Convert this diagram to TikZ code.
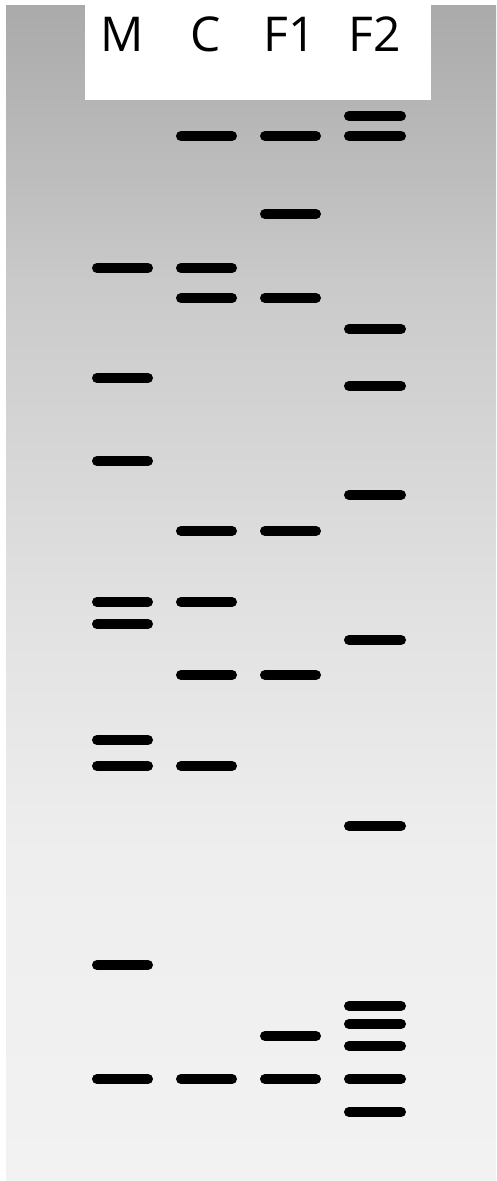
\documentclass[tikz,border=0pt]{standalone}
\usepackage{fontspec}
\setmainfont{Open Sans}
\definecolor{gA}{HTML}{AAAAAA}
\definecolor{gB}{HTML}{CBCBCB}
\definecolor{gC}{HTML}{E1E1E1}
\definecolor{gD}{HTML}{EEEEEE}
\definecolor{gE}{HTML}{F2F2F2}
\pgfdeclareverticalshading{gelshade}{100bp}{color(0bp)=(gE); color(25bp)=(gE); color(39bp)=(gD); color(49.5bp)=(gC); color(62.5bp)=(gB); color(75bp)=(gA); color(100bp)=(gA)}
\begin{document}
\begin{tikzpicture}[x=1pt,y=-1pt,
  band/.style={line width=10pt,line cap=round,draw=black},
  lane/.style={font=\fontsize{48}{48}\selectfont,anchor=base,inner sep=0pt}]
\useasboundingbox (0,0) rectangle (496,1181);
\fill[white] (0,0) rectangle (496,1181);
\shade[shading=gelshade] (6,5) rectangle (496,1181);
\fill[white] (85,0) rectangle (431,100);
\node[lane] (lM) at (122,51) {M};
\node[lane] (lC) at (206,51) {C};
\node[lane] (lF1) at (290,51) {F1};
\node[lane] (lF2) at (375,51) {F2};
% M lane
\foreach \y in {268,378,461,602,624,740,766,965,1079}
  \draw[band] (97,\y) -- (148,\y);
% C lane
\foreach \y in {136,268,298,531,602,675,766,1079}
  \draw[band] (181,\y) -- (232,\y);
% F1 lane
\foreach \y in {136,214,298,531,675,1036,1079}
  \draw[band] (265,\y) -- (316,\y);
% F2 lane
\foreach \y in {116,136,329,386,495,640,826,1006,1024,1046,1079,1112}
  \draw[band] (349,\y) -- (401,\y);
\end{tikzpicture}
\end{document}
